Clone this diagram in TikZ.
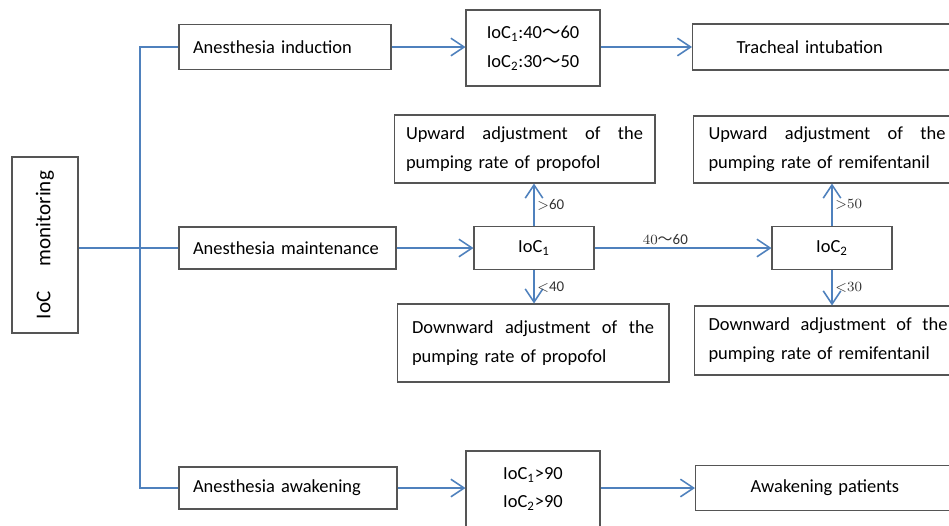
\documentclass[tikz,border=0pt]{standalone}
\usepackage{fontspec}
\setmainfont{Carlito}
\newfontfamily\cjk{Noto Sans CJK SC}
\usepackage{tikz}
\usetikzlibrary{arrows.meta}
\definecolor{flowblue}{RGB}{79,129,189}
\definecolor{edgegray}{RGB}{85,85,85}
\tikzset{
  box/.style={rectangle, draw=edgegray, line width=0.6pt, inner sep=0pt,
              font=\fontsize{10.5pt}{16.4pt}\selectfont},
  arrowline/.style={-{Straight Barb[length=7.5pt, width=10pt]}, draw=flowblue, line width=0.9pt},
  joinline/.style={draw=flowblue, line width=0.9pt},
  cond/.style={font=\fontsize{8.5pt}{10pt}\selectfont, text=black!80, inner sep=1.5pt},
}
\newcommand{\spreadline}[1]{\hbox to \hsize{#1}}
\begin{document}
\begin{tikzpicture}[x=0.02cm, y=-0.02cm]
\useasboundingbox (0,0) rectangle (949,525);
\clip (0,0) rectangle (949,525);

\node[box, rotate=90, minimum width=3.52cm, minimum height=1.32cm,
      font=\fontsize{12pt}{14pt}\selectfont] (mon) at (45,245) {IoC\hspace{1.2em}monitoring};

% stages
\node[box, text width=3.68cm, inner xsep=0.28cm, minimum height=0.9cm, align=left] (induct) at (285,47) {Anesthesia induction};
\node[box, text width=3.78cm, inner xsep=0.28cm, minimum height=0.84cm, align=left] (maint)  at (287.5,248) {Anesthesia maintenance};
\node[box, text width=3.8cm,  inner xsep=0.28cm, minimum height=0.84cm, align=left] (awake)  at (288,488) {Anesthesia awakening};

% induction row
\node[box, minimum width=2.68cm, minimum height=1.52cm, align=left] (crit1) at (533,48)
  {IoC\textsubscript{1}:40{\cjk ～}60\\IoC\textsubscript{2}:30{\cjk ～}50};
\node[box, anchor=west, text width=4cm, inner xsep=0.88cm, minimum height=0.92cm, align=left] (trach) at (692,47) {Tracheal intubation};

% maintenance row
\node[box, minimum width=2.4cm, minimum height=0.86cm] (ioc1) at (534,248) {IoC\textsubscript{1}};
\node[box, minimum width=2.4cm, minimum height=0.86cm] (ioc2) at (832,248) {IoC\textsubscript{2}};
\node[box, text width=4.74cm, inner xsep=0.24cm, minimum height=1.36cm, align=left] (upP) at (524.5,149)
  {\spreadline{Upward\hfill adjustment\hfill of\hfill the}\\pumping rate of propofol};
\node[box, text width=4.84cm, inner xsep=0.3cm, minimum height=1.56cm, align=left] (downP) at (533,343)
  {\spreadline{Downward\hfill adjustment\hfill of\hfill the}\\pumping rate of propofol};
\node[box, anchor=west, text width=4.74cm, inner xsep=0.3cm, minimum height=1.34cm, align=left] (upR) at (693,149.5)
  {\spreadline{Upward\hfill adjustment\hfill of\hfill the}\\pumping rate of remifentanil};
\node[box, anchor=west, text width=4.78cm, inner xsep=0.28cm, minimum height=1.38cm, align=left] (downR) at (694,340.5)
  {\spreadline{Downward\hfill adjustment\hfill of\hfill the}\\pumping rate of remifentanil};

% awakening row
\node[box, minimum width=2.68cm, minimum height=1.52cm, align=left] (crit2) at (533,489)
  {IoC\textsubscript{1}>90\\IoC\textsubscript{2}>90};
\node[box, anchor=west, text width=4cm, inner xsep=1.1cm, minimum height=0.9cm, align=left] (wake) at (695,488) {Awakening patients};

% connectors
\coordinate (trunk) at (140,248);
\draw[joinline] (mon.south |- maint.west) -- (maint.west);
\draw[joinline] (induct.west) -| (trunk) |- (awake.west);

\draw[arrowline] (induct) -- (induct -| crit1.west);
\draw[arrowline] (crit1.east |- trach) -- (trach);
\draw[arrowline] (maint) -- (ioc1);
\draw[arrowline] (ioc1) -- (ioc2) node[cond, pos=0.4, above] {$40${\cjk ～}60};
\draw[arrowline] (ioc1.north) -- (ioc1.north |- upP.south) node[cond, midway, right] {$>$60};
\draw[arrowline] (ioc1.south) -- (ioc1.south |- downP.north) node[cond, midway, right] {$<$40};
\draw[arrowline] (ioc2.north) -- (ioc2.north |- upR.south) node[cond, midway, right] {${>}50$};
\draw[arrowline] (ioc2.south) -- (ioc2.south |- downR.north) node[cond, midway, right] {${<}30$};
\draw[arrowline] (awake) -- (awake -| crit2.west);
\draw[arrowline] (crit2.east |- wake) -- (wake);
\end{tikzpicture}
\end{document}
